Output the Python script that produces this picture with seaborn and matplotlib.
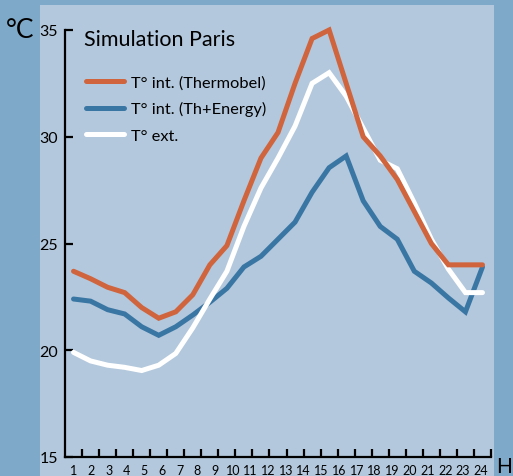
import numpy as np
import pandas as pd
import matplotlib
matplotlib.use("Agg")
from matplotlib import pyplot as plt
from matplotlib.patches import Rectangle
from matplotlib.ticker import FixedLocator
import seaborn as sns

sns.set_style("ticks")
plt.rcParams['font.family'] = ['Lato', 'DejaVu Sans']
plt.rcParams['text.color'] = 'black'
plt.rcParams['xtick.color'] = 'black'
plt.rcParams['ytick.color'] = 'black'

# 25 simulated points, hourly
hours = list(range(25))
hour_labels = ['1', '2', '3', '4', '5', '6', '7', '8', '9', '10', '11', '12',
               '13', '14', '15', '16', '17', '18', '19', '20', '21', '22', '23', '24']

t_thermobel = [23.7, 23.35, 22.95, 22.7, 22.0, 21.5, 21.8, 22.6, 24.0, 24.9,
               27.0, 29.0, 30.2, 32.5, 34.6, 35.0, 32.5, 30.0, 29.1, 28.0,
               26.5, 25.0, 24.0, 24.0, 24.0]
t_energy = [22.4, 22.3, 21.9, 21.7, 21.1, 20.7, 21.1, 21.65, 22.25, 22.9,
            23.9, 24.4, 25.2, 26.0, 27.4, 28.55, 29.1, 27.0, 25.8, 25.2,
            23.7, 23.15, 22.45, 21.8, 23.9]
t_ext = [19.9, 19.5, 19.3, 19.2, 19.05, 19.3, 19.85, 21.05, 22.4, 23.7,
         25.8, 27.6, 29.0, 30.5, 32.5, 33.0, 31.9, 30.4, 28.9, 28.5,
         26.9, 25.2, 23.8, 22.7, 22.7]

series = ["T° int. (Thermobel)", "T° int. (Th+Energy)", "T° ext."]
palette = {series[0]: '#d0643c', series[1]: '#3a76a4', series[2]: 'white'}

df = pd.concat([
    pd.DataFrame({'hour': hours, 'temp': t_thermobel, 'serie': series[0]}),
    pd.DataFrame({'hour': hours, 'temp': t_energy, 'serie': series[1]}),
    pd.DataFrame({'hour': hours, 'temp': t_ext, 'serie': series[2]}),
])

fig = plt.figure(figsize=(5.13, 4.77), dpi=100)
fig.patch.set_facecolor('#7fa9c8')
panel = Rectangle((40/513, 0), 454/513, 471/477, transform=fig.transFigure,
                  facecolor='#b3c8dc', edgecolor='none', zorder=-10)
fig.add_artist(panel)

ax = fig.add_axes([65/513, 19/477, 426/513, 427/477])
ax.set_facecolor('none')
ax.set_zorder(2)

sns.lineplot(data=df, x='hour', y='temp', hue='serie', hue_order=series,
             palette=palette, linewidth=3.6, ax=ax, legend=True)

# drawing order: blue under white under orange
zorders = {0: 5, 1: 3, 2: 4}
for i, ln in enumerate(ax.lines[:3]):
    ln.set_zorder(zorders[i])
    ln.set_clip_on(False)
    ln.set_solid_joinstyle('miter')

ax.set_xlim(-0.5, 24.5)
ax.set_ylim(15, 35)
ax.set_xlabel('')
ax.set_ylabel('')

ax.set_xticks(np.linspace(0, 23.9, 24))
ax.set_xticklabels(hour_labels, fontsize=9)
ax.xaxis.set_minor_locator(FixedLocator(np.arange(0.5, 25, 1)))
ax.tick_params(axis='x', which='major', length=0, pad=5)
ax.tick_params(axis='x', which='minor', direction='in', length=6, width=1.6, color='black')

ax.set_yticks([15, 20, 25, 30, 35])
ax.tick_params(axis='y', direction='in', length=6, width=1.6, labelsize=11.5, pad=5)

sns.despine(ax=ax)
for s in ['left', 'bottom']:
    ax.spines[s].set_linewidth(1.6)
    ax.spines[s].set_color('black')

handles, labels = ax.get_legend_handles_labels()
for h in handles:
    h.set_linewidth(3.6)
ax.legend(handles, labels, loc='upper left', bbox_to_anchor=(0.035, 0.91),
          frameon=False, fontsize=11.8, handlelength=2.3, handletextpad=0.4,
          labelspacing=0.72, borderaxespad=0)

ax.text(0.045, 0.98, 'Simulation Paris', transform=ax.transAxes,
        fontsize=15.5, va='center', ha='left')

fig.text(6/513, (477-31)/477, '°C', fontsize=19, va='center', ha='left')
fig.text(496/513, 0.0, 'H', fontsize=15, va='bottom', ha='left')

fig.savefig('out.png', dpi=100, facecolor=fig.get_facecolor())
